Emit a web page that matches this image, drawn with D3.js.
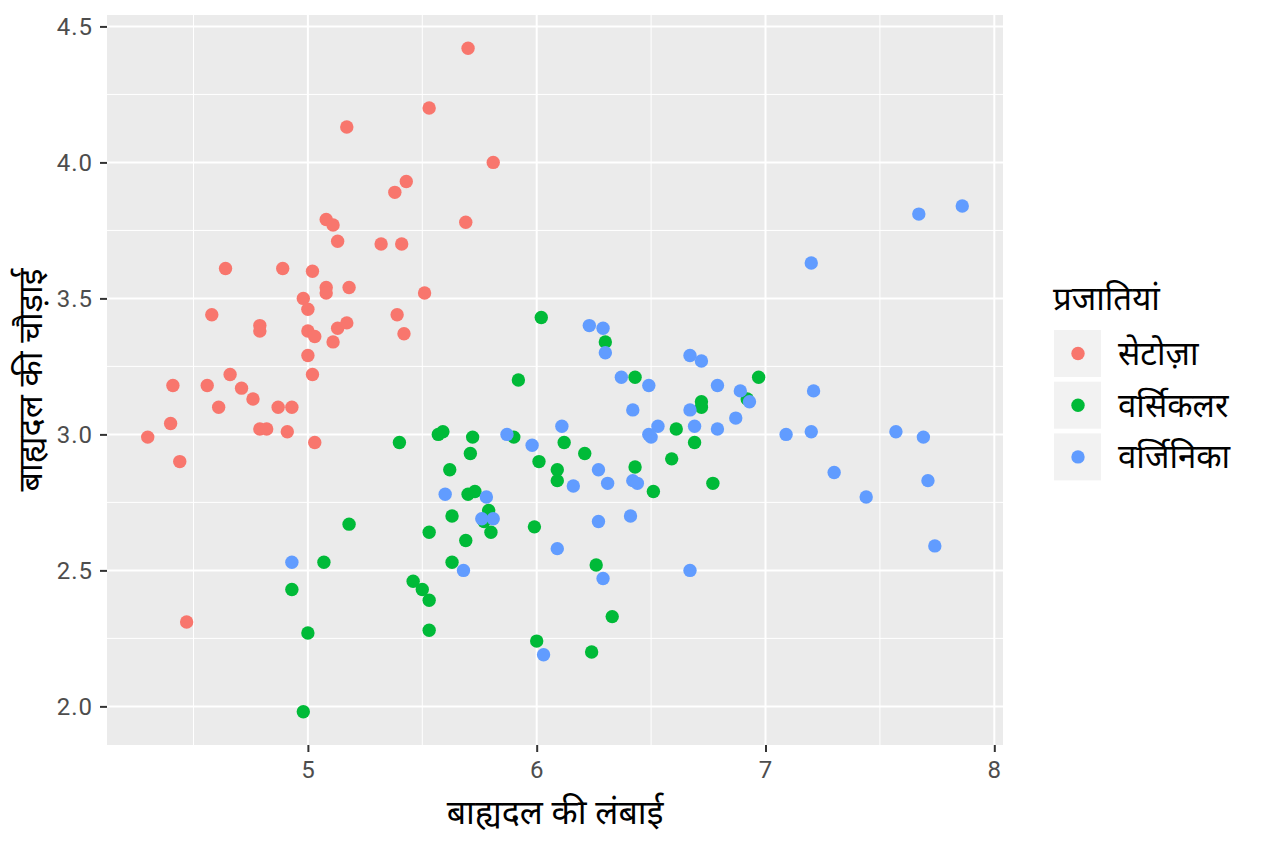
<!DOCTYPE html>
<html>
<head>
<meta charset="utf-8">
<script src="https://cdn.jsdelivr.net/npm/d3@7"></script>
<style>
body { margin: 0; background: #fff; }
svg text { font-family: "Noto Sans", "Noto Sans Devanagari", sans-serif; }
.tick text { font-family: Roboto, "Liberation Sans", sans-serif; }
</style>
</head>
<body>
<svg id="chart" width="1264" height="843"></svg>
<script>

var species = ['सेटोज़ा', 'वर्सिकलर', 'वर्जिनिका'];
var speciesColors = ['#F8766D', '#00BA38', '#619CFF'];

var xTicks = [5, 6, 7, 8];
var yTicks = [2.0, 2.5, 3.0, 3.5, 4.0, 4.5];

var setosaX = [5.70, 5.53, 5.17, 5.81, 5.43, 5.38, 5.08, 5.11, 5.69, 5.13,
               5.32, 5.41, 4.64, 4.89, 5.02, 5.08, 5.08, 5.18, 5.51, 4.98,
               5.00, 4.58, 4.79, 4.79, 5.00, 5.03, 5.13, 5.17, 5.11, 5.39,
               5.42, 5.00, 5.02, 4.66, 4.41, 4.56, 4.71, 4.76, 4.61, 4.87,
               4.93, 4.40, 4.79, 4.82, 4.91, 4.30, 5.03, 4.44, 4.47];
var setosaY = [4.42, 4.20, 4.13, 4.00, 3.93, 3.89, 3.79, 3.77, 3.78, 3.71,
               3.70, 3.70, 3.61, 3.61, 3.60, 3.54, 3.52, 3.54, 3.52, 3.50,
               3.46, 3.44, 3.40, 3.38, 3.38, 3.36, 3.39, 3.41, 3.34, 3.44,
               3.37, 3.29, 3.22, 3.22, 3.18, 3.18, 3.17, 3.13, 3.10, 3.10,
               3.10, 3.04, 3.02, 3.02, 3.01, 2.99, 2.97, 2.90, 2.31];

var versicolorX = [5.40, 5.07, 5.18, 4.93, 5.00, 4.98, 5.46, 5.50, 5.53, 5.53,
                   5.63, 5.63, 5.53, 5.69, 5.80, 5.79, 5.77, 5.99, 6.26, 6.33,
                   6.00, 6.24, 6.02, 6.30, 5.92, 6.43, 6.72, 6.72, 6.61, 6.69,
                   5.57, 5.59, 5.72, 5.90, 6.12, 5.71, 6.21, 5.62, 6.01, 6.43,
                   6.59, 6.09, 6.09, 6.51, 6.77, 5.70, 5.73, 6.97, 6.92];
var versicolorY = [2.97, 2.53, 2.67, 2.43, 2.27, 1.98, 2.46, 2.43, 2.39, 2.28,
                   2.53, 2.70, 2.64, 2.61, 2.64, 2.72, 2.68, 2.66, 2.52, 2.33,
                   2.24, 2.20, 3.43, 3.34, 3.20, 3.21, 3.12, 3.10, 3.02, 2.97,
                   3.00, 3.01, 2.99, 2.99, 2.97, 2.93, 2.93, 2.87, 2.90, 2.88,
                   2.91, 2.87, 2.83, 2.79, 2.82, 2.78, 2.79, 3.21, 3.13];

var virginicaX = [4.93, 6.23, 6.29, 6.30, 6.67, 6.72, 6.37, 6.49, 6.42, 6.67,
                  6.53, 6.49, 6.50, 6.69, 5.87, 5.98, 6.11, 6.27, 6.16, 6.31,
                  6.42, 6.44, 5.60, 5.78, 5.76, 5.81, 6.27, 6.41, 6.09, 5.68,
                  6.29, 6.67, 6.03, 7.67, 7.86, 7.20, 6.79, 6.89, 6.93, 7.21,
                  6.87, 6.79, 7.09, 7.20, 7.57, 7.69, 7.30, 7.71, 7.44, 7.74];
var virginicaY = [2.53, 3.40, 3.39, 3.30, 3.29, 3.27, 3.21, 3.18, 3.09, 3.09,
                  3.03, 3.00, 2.99, 3.03, 3.00, 2.96, 3.03, 2.87, 2.81, 2.82,
                  2.83, 2.82, 2.78, 2.77, 2.69, 2.69, 2.68, 2.70, 2.58, 2.50,
                  2.47, 2.50, 2.19, 3.81, 3.84, 3.63, 3.18, 3.16, 3.12, 3.16,
                  3.06, 3.02, 3.00, 3.01, 3.01, 2.99, 2.86, 2.83, 2.77, 2.59];

var seriesX = [setosaX, versicolorX, virginicaX];
var seriesY = [setosaY, versicolorY, virginicaY];

var svg = d3.select('#chart');

var panel = { left: 107, top: 15, right: 1003, bottom: 745 };
var pointR = 6.7;

// ggplot style 5% expansion
function expanded(vals) {
    var ext = d3.extent(vals);
    var pad = (ext[1] - ext[0]) * 0.05;
    return [ext[0] - pad, ext[1] + pad];
}

var allX = d3.merge(seriesX), allY = d3.merge(seriesY);

var x = d3.scaleLinear().domain(expanded(allX)).range([panel.left, panel.right]);
var y = d3.scaleLinear().domain(expanded(allY)).range([panel.bottom, panel.top]);

// panel
svg.append('rect')
    .attr('x', panel.left).attr('y', panel.top)
    .attr('width', panel.right - panel.left).attr('height', panel.bottom - panel.top)
    .attr('fill', '#EBEBEB');

var xMinor = d3.range(xTicks.length - 1).map(function(i) { return (xTicks[i] + xTicks[i + 1]) / 2; });
xMinor.unshift(xTicks[0] - 0.5);
var yMinor = d3.range(yTicks.length - 1).map(function(i) { return (yTicks[i] + yTicks[i + 1]) / 2; });
xMinor = xMinor.filter(function(v) { return x(v) > panel.left && x(v) < panel.right; });

var grid = svg.append('g').attr('stroke', '#fff').attr('fill', 'none');

grid.selectAll('line.xminor').data(xMinor).enter().append('line')
    .attr('class', 'xminor')
    .attr('x1', x).attr('x2', x)
    .attr('y1', panel.top).attr('y2', panel.bottom)
    .attr('stroke-width', 1);

grid.selectAll('line.yminor').data(yMinor).enter().append('line')
    .attr('class', 'yminor')
    .attr('y1', y).attr('y2', y)
    .attr('x1', panel.left).attr('x2', panel.right)
    .attr('stroke-width', 1);

grid.selectAll('line.xmajor').data(xTicks).enter().append('line')
    .attr('class', 'xmajor')
    .attr('x1', x).attr('x2', x)
    .attr('y1', panel.top).attr('y2', panel.bottom)
    .attr('stroke-width', 2);

grid.selectAll('line.ymajor').data(yTicks).enter().append('line')
    .attr('class', 'ymajor')
    .attr('y1', y).attr('y2', y)
    .attr('x1', panel.left).attr('x2', panel.right)
    .attr('stroke-width', 2);

// points, drawn in species order like ggplot
species.forEach(function(name, s) {
    var pts = seriesX[s].map(function(v, i) { return [v, seriesY[s][i]]; });
    svg.append('g').attr('class', 'species-' + s)
        .selectAll('circle').data(pts).enter().append('circle')
        .attr('cx', function(d) { return x(d[0]); })
        .attr('cy', function(d) { return y(d[1]); })
        .attr('r', pointR)
        .attr('fill', speciesColors[s]);
});

// axes
var xAxis = svg.append('g')
    .attr('transform', 'translate(0,' + panel.bottom + ')')
    .call(d3.axisBottom(x).tickValues(xTicks).tickSize(7).tickPadding(9).tickFormat(d3.format('d')));

var yAxis = svg.append('g')
    .attr('transform', 'translate(' + panel.left + ',0)')
    .call(d3.axisLeft(y).tickValues(yTicks).tickSize(7).tickPadding(7).tickFormat(d3.format('.1f')));

[xAxis, yAxis].forEach(function(a) {
    a.select('.domain').remove();
    a.selectAll('.tick line').attr('stroke', '#333').attr('stroke-width', 2);
    a.selectAll('.tick text').attr('fill', '#4D4D4D').style('font-size', '24px').style('letter-spacing', '1px');
});

// axis titles
svg.append('text')
    .attr('x', (panel.left + panel.right) / 2).attr('y', 824)
    .attr('text-anchor', 'middle')
    .style('font-size', '34px')
    .text('बाह्यदल की लंबाई');

svg.append('text')
    .attr('transform', 'translate(42,' + ((panel.top + panel.bottom) / 2) + ') rotate(-90)')
    .attr('text-anchor', 'middle')
    .style('font-size', '34px')
    .text('बाह्यदल की चौड़ाई');

// legend
var legend = svg.append('g').attr('transform', 'translate(1054,0)');

legend.append('text')
    .attr('x', -1).attr('y', 310)
    .style('font-size', '33px')
    .text('प्रजातियां');

var keys = legend.selectAll('g.key').data(species).enter().append('g')
    .attr('class', 'key')
    .attr('transform', function(d, i) { return 'translate(0,' + (330 + i * 51.7) + ')'; });

keys.append('rect')
    .attr('width', 47).attr('height', 47)
    .attr('fill', '#F2F2F2');

keys.append('circle')
    .attr('cx', 24).attr('cy', 23.5).attr('r', pointR)
    .attr('fill', function(d, i) { return speciesColors[i]; });

keys.append('text')
    .attr('x', 64).attr('y', 35)
    .style('font-size', '33px')
    .text(function(d) { return d; });

</script>
</body>
</html>
